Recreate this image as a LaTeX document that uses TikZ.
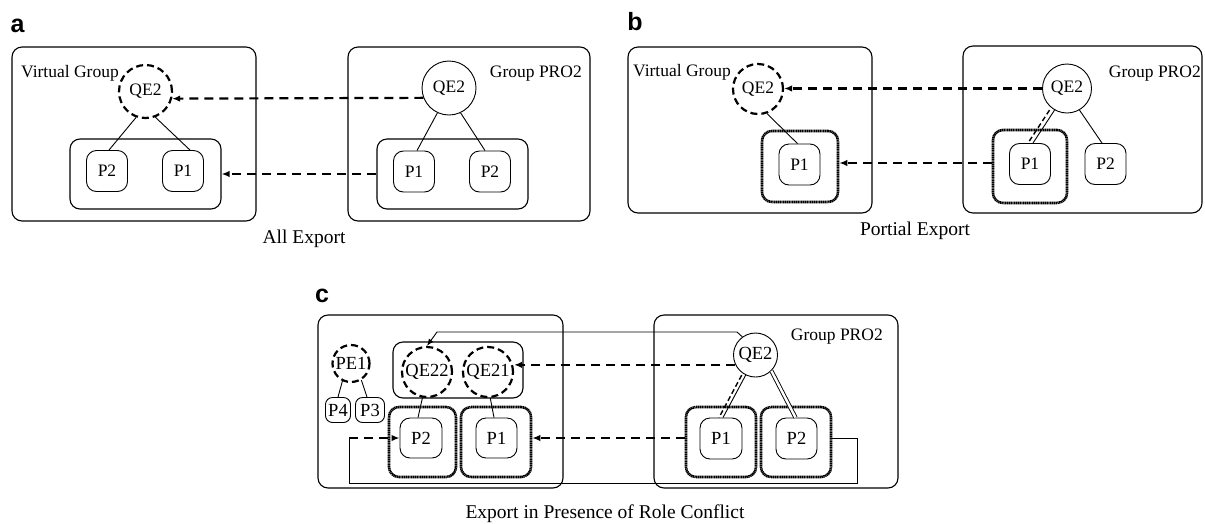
\documentclass[tikz,border=0pt]{standalone}
\usepackage{fontspec}
\setmainfont{Liberation Serif}
\newfontfamily\panelfont{Liberation Sans}
\usetikzlibrary{arrows.meta}
\begin{document}
\begin{tikzpicture}[x=1pt,y=-1pt,
  lbl/.style={font=\fontsize{17.5}{20}\selectfont},
  lblc/.style={font=\fontsize{18.5}{21}\selectfont},
  captxt/.style={font=\fontsize{19.5}{22}\selectfont, anchor=base, inner sep=0},
  paneltag/.style={font=\panelfont\bfseries\fontsize{25}{28}\selectfont, anchor=base, inner sep=0},
  grp/.style={draw, line width=1.1pt, rounded corners=10pt, inner sep=0},
  pbox/.style={draw, line width=0.9pt, rounded corners=10pt, inner sep=0,
               minimum width=41pt, minimum height=41pt, lbl},
  vq/.style={circle, draw, line width=2.2pt, dash pattern=on 7pt off 4pt, inner sep=0},
  rq/.style={circle, draw, line width=0.9pt, inner sep=0, lbl},
  wrapbox/.style={draw, line width=2.6pt, dash pattern=on 1.3pt off 0.5pt,
               rounded corners=10pt, inner sep=0},
  link/.style={line width=0.9pt},
  dlink/.style={line width=1.4pt, dash pattern=on 5pt off 3pt},
  exportarrow/.style={line width=2.2pt, dash pattern=on 9pt off 6pt,
              -{Latex[length=8pt,width=6.5pt]}},
]
\useasboundingbox (0,0) rectangle (1205,523);

% ---------------- panel a : all export ----------------
\node[paneltag] (ta) at (17.5,32) {a};
\node[grp, minimum width=244pt, minimum height=174pt] (La) at (134,134) {};
\node[grp, minimum width=242pt, minimum height=174pt] (Ra) at (469,134) {};
\node[lbl, anchor=base west, inner sep=0] (vga) at (21,77) {Virtual Group};
\node[lbl, anchor=base east, inner sep=0] (gpa) at (582,77) {Group PRO2};
\node[grp, minimum width=151pt, minimum height=70pt] (ila) at (145.5,174) {};
\node[grp, minimum width=151pt, minimum height=70pt] (ira) at (452.5,174) {};
\node[vq, lbl, minimum size=53pt] (qla) at (145.5,91.5) {QE2};
\node[rq, minimum size=54pt] (qra) at (449,88) {QE2};
\node[pbox] (p2la) at (107,171) {P2};
\node[pbox] (p1la) at (183,171) {P1};
\node[pbox] (p1ra) at (414,171.5) {P1};
\node[pbox] (p2ra) at (490,171.5) {P2};
\draw[link] (qla.250) -- ([xshift=2pt]p2la.north);
\draw[link] (qla.291) -- ([xshift=7pt]p1la.north);
\draw[link] (qra.245) -- ([xshift=3pt]p1ra.north);
\draw[link] (qra.295) -- ([xshift=-5pt]p2ra.north);
\draw[exportarrow] (qra.201.7) -- (qla.345.8);
\draw[exportarrow] (ira.west) -- (ila.east);
\node[captxt] (capa) at (304,243) {All Export};

% ---------------- panel b : partial export ----------------
\node[paneltag] (tb) at (635,30) {b};
\node[grp, minimum width=244pt, minimum height=166pt] (Lb) at (750,130) {};
\node[grp, minimum width=239pt, minimum height=167pt] (Rb) at (1082.5,129.5) {};
\node[lbl, anchor=base west, inner sep=0] (vgb) at (633,76) {Virtual Group};
\node[lbl, anchor=base east, inner sep=0] (gpb) at (1201,77) {Group PRO2};
\node[vq, lbl, minimum size=50pt] (qlb) at (758,89) {QE2};
\node[rq, minimum size=49pt] (qrb) at (1067,88.5) {QE2};
\node[wrapbox, minimum width=76pt, minimum height=71pt] (polb) at (800,166.5) {};
\node[wrapbox, minimum width=74pt, minimum height=73pt] (porb) at (1030,166.5) {};
\node[pbox] (p1lb) at (799.5,164.5) {P1};
\node[pbox] (p1rb) at (1030,164) {P1};
\node[pbox] (p2rb) at (1105.5,164) {P2};
\draw[link] (qlb.290) -- ([xshift=-2pt]p1lb.north);
\draw[link] (qrb.240) -- ([xshift=3pt]p1rb.north);
\draw[dlink, transform canvas={xshift=-5pt}] (qrb.240) -- ([xshift=3pt]p1rb.north);
\draw[link] (qrb.300) -- ([xshift=-3.5pt]p2rb.north);
\draw[exportarrow] (qrb.west) -- (qrb.west -| qlb.east);
\draw[exportarrow] ([yshift=3.5pt]porb.west) -- ([yshift=3.5pt]polb.east);
\node[captxt] (capb) at (915,235) {Portial Export};

% ---------------- panel c : export with role conflict ----------------
\node[paneltag] (tc) at (322,302) {c};
\node[grp, minimum width=245pt, minimum height=173pt] (Lc) at (440.5,401.5) {};
\node[grp, minimum width=244pt, minimum height=173pt] (Rc) at (776,401.5) {};
\node[lbl, anchor=base east, inner sep=0] (gpc) at (883,340) {Group PRO2};
\node[grp, minimum width=130pt, minimum height=56pt] (qbox) at (458,370) {};
\node[vq, lblc, minimum size=50pt] (qe22) at (427,372) {QE22};
\node[vq, lblc, minimum size=50pt] (qe21) at (488,372) {QE21};
\node[vq, lblc, minimum size=37pt] (pe1) at (351,363.5) {PE1};
\node[pbox, rounded corners=7pt, minimum width=25pt, minimum height=25pt, lblc] (p4) at (338,410) {P4};
\node[pbox, rounded corners=7pt, minimum width=29pt, minimum height=25pt, lblc] (p3) at (370,410) {P3};
\node[rq, lblc, minimum size=44pt] (qc) at (755.5,355) {QE2};
\node[wrapbox, minimum width=67pt, minimum height=70pt] (po2lc) at (422.5,442) {};
\node[wrapbox, minimum width=70pt, minimum height=70pt] (po1lc) at (496,442) {};
\node[wrapbox, minimum width=70pt, minimum height=70pt] (po1rc) at (721,442) {};
\node[wrapbox, minimum width=70pt, minimum height=70pt] (po2rc) at (796,442) {};
\node[pbox, minimum width=42pt, minimum height=40pt, lblc] (p2lc) at (421,438) {P2};
\node[pbox, minimum width=41pt, minimum height=40pt, lblc] (p1lc) at (496.5,438) {P1};
\node[pbox, minimum width=42pt, minimum height=41pt, lblc] (p1rc) at (721,438.5) {P1};
\node[pbox, minimum width=41pt, minimum height=41pt, lblc] (p2rc) at (796.5,438.5) {P2};
\draw[link] (pe1.244) -- (p4.north);
\draw[link] (pe1.302) -- ([xshift=-3pt]p3.north);
\draw[link] (qe22.260) -- ([xshift=-3pt]p2lc.north);
\draw[link] (qe21.275) -- ([xshift=-2.5pt]p1lc.north);
\draw[link] (qc.244) -- ([xshift=2pt]p1rc.north);
\draw[dlink, transform canvas={xshift=-4pt}] (qc.244) -- ([xshift=2pt]p1rc.north);
\draw[link, double, double distance=2.4pt] (qc.315) -- ([xshift=-1pt]p2rc.north);
% role link routed over the top to the second virtual role
\coordinate (bendA) at (737,332);
\coordinate (bendB) at (437,332);
\draw[link, -{Latex[length=7pt,width=5.5pt]}] (qc.126) -- (bendA) -- (bendB) -- (qe22.north);
\draw[exportarrow] (qc.206) -- (qc.206 -| qe21.east);
\draw[exportarrow] ([yshift=4pt]po1rc.west) -- ([yshift=4pt]po1lc.east);
% conflicting member routed underneath back into the virtual group
\coordinate (loopSE) at (857,483);
\coordinate (loopNW) at (349,438);
\draw[link] ([yshift=4pt]po2rc.east) -| (loopSE) -| (loopNW);
\draw[exportarrow] (loopNW) -- (p2lc.west);
\node[captxt] (capc) at (605,518) {Export in Presence of Role Conflict};
\end{tikzpicture}
\end{document}
